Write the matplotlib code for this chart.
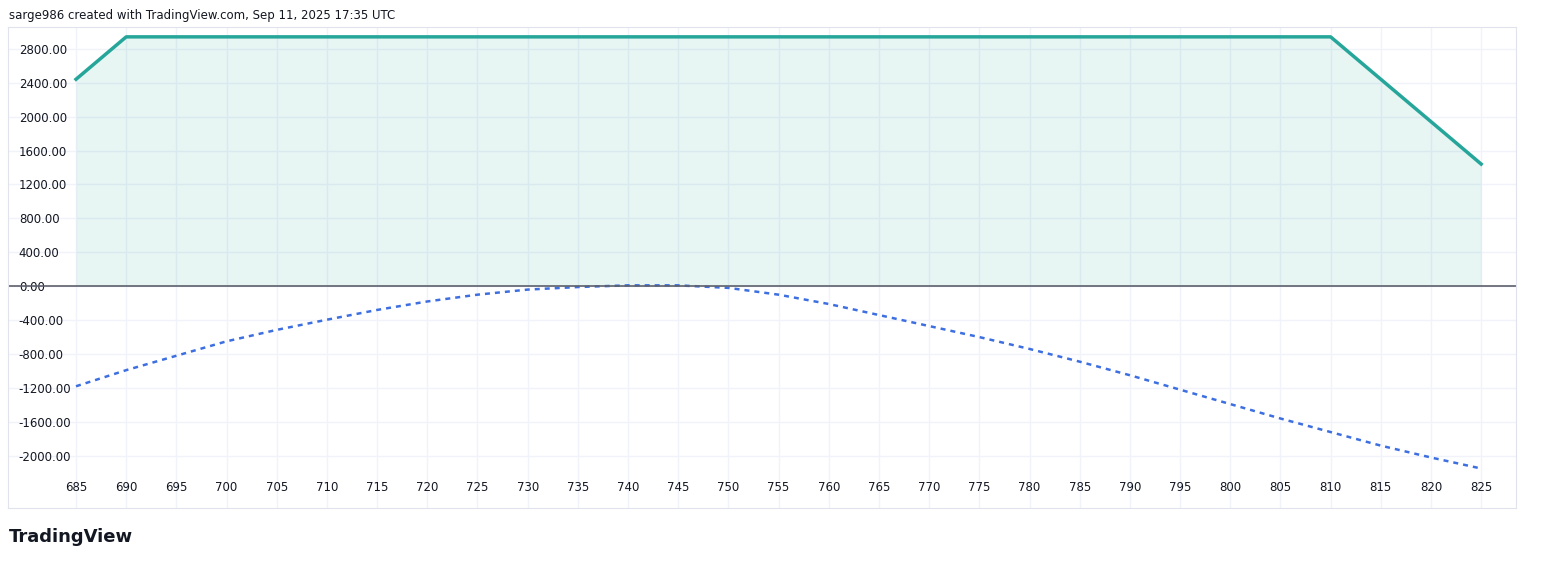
import matplotlib
matplotlib.use("Agg")
import matplotlib.pyplot as plt

strikes = [685, 690, 810, 825]
pnl_expiry = [2440, 2940, 2940, 1440]

x_today = [685, 690, 695, 700, 705, 710, 715, 720, 725, 730, 735, 740, 745, 750,
           755, 760, 765, 770, 775, 780, 785, 790, 795, 800, 805, 810, 815, 820, 825]
pnl_today = [-1180, -990, -820, -650, -515, -395, -280, -180, -100, -40, -10, 10, 10, -20,
             -100, -210, -340, -470, -600, -740, -890, -1050, -1220, -1390, -1560, -1720,
             -1880, -2020, -2150]

x_ticks = list(range(685, 826, 5))
y_ticks = list(range(-2000, 2801, 400))

fig = plt.figure(figsize=(15.52, 5.63), dpi=100)
ax = fig.add_axes([0.005, 0.097, 0.972, 0.855])

ax.fill_between(strikes, pnl_expiry, 0, color="#26a69a", alpha=0.11, lw=0)
ax.plot(strikes, pnl_expiry, color="#26a69a", lw=2.5)
ax.plot(x_today, pnl_today, color="#3d6fe0", lw=1.8, ls=(0, (2, 2)))
ax.axhline(0, color="#5d606b", lw=1.2)

ax.set_xlim(678.2, 828.5)
ax.set_ylim(-2620, 3056)
ax.set_xticks(x_ticks)
ax.set_yticks(y_ticks)
ax.set_yticklabels([f"{v:.2f}" for v in y_ticks])
ax.tick_params(axis="y", direction="in", pad=-8, length=0, labelsize=8.5, colors="#131722")
ax.tick_params(axis="x", direction="in", pad=-20, length=0, labelsize=8.5, colors="#131722")
for lbl in ax.get_yticklabels():
    lbl.set_horizontalalignment("left")
ax.grid(True, color="#f0f3fa", lw=1)
ax.set_axisbelow(True)
for s in ax.spines.values():
    s.set_color("#e0e3eb")

fig.text(0.006, 0.972, "sarge986 created with TradingView.com, Sep 11, 2025 17:35 UTC",
         fontsize=8.5, color="#131722", va="center")
fig.text(0.006, 0.047, "TradingView", fontsize=13, fontweight="bold",
         color="#131722", va="center")

fig.savefig("out.png", dpi=100)
